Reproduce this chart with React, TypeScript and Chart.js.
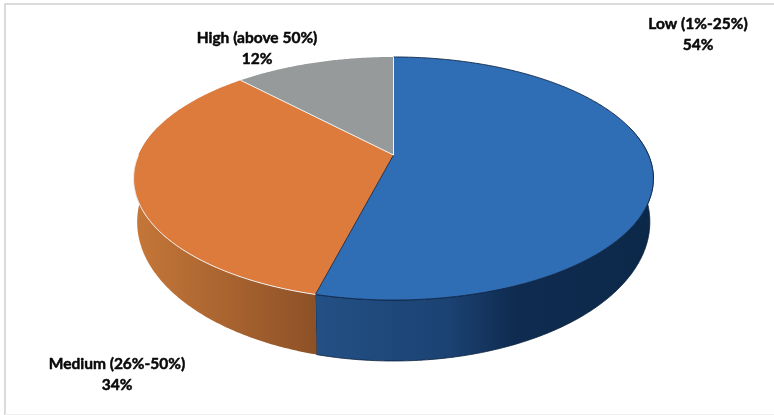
import React, { useEffect, useRef } from "react";
import { Chart, registerables } from "chart.js";

Chart.register(...registerables);

const sliceNames = ["Low (1%-25%)", "Medium (26%-50%)", "High (above 50%)"];
const sharePercent = [54, 34, 12];

const topColors = ["#2f6db5", "#dd7b3c", "#969a9a"];
const wallStops = [
  [[0, "#235085"], [0.4, "#1b4272"], [0.6, "#0f2b50"], [1, "#0c2849"]],
  [[0, "#c47638"], [1, "#8d5127"]],
  [[0, "#6b6e6e"], [1, "#6b6e6e"]],
];
const labelAnchors = [
  { x: 698, y: 24 },
  { x: 117, y: 364 },
  { x: 257, y: 38 },
];

// The disc is a circle seen in perspective: the hub sits above the centre of the rim ellipse.
const CX = 393.5;
const TILT = 0.1934;
const TOP = { a: 255, b: 117, y0: 155 };
const BASE = { a: 251.5, b: 133.8, y0: 195.1 };

type Plane = { a: number; b: number; y0: number };

function project(theta: number, p: Plane) {
  const X = Math.sin(theta);
  const Y = -Math.cos(theta);
  const w = 1 - TILT * Y;
  return { x: CX + (p.a * X) / w, y: p.y0 + (p.b * Y) / w };
}

function tracePlaneArc(ctx: CanvasRenderingContext2D, from: number, to: number, p: Plane, first: boolean) {
  const n = Math.max(2, Math.ceil(Math.abs(to - from) / (Math.PI / 360)));
  for (let i = 0; i <= n; i++) {
    const pt = project(from + ((to - from) * i) / n, p);
    if (i === 0 && first) ctx.moveTo(pt.x, pt.y);
    else ctx.lineTo(pt.x, pt.y);
  }
}

const perspectivePie = {
  id: "perspectivePie",
  beforeDraw(chart: Chart) {
    const { ctx } = chart;
    ctx.save();
    ctx.fillStyle = "#ffffff";
    ctx.fillRect(0, 0, 774, 415);
    ctx.strokeStyle = "#cfcfcf";
    ctx.lineWidth = 1.5;
    ctx.beginPath();
    ctx.moveTo(5, 415);
    ctx.lineTo(5, 4);
    ctx.lineTo(774, 4);
    ctx.stroke();
    ctx.strokeStyle = "#efefef";
    ctx.lineWidth = 1;
    ctx.beginPath();
    ctx.moveTo(5, 414.5);
    ctx.lineTo(774, 414.5);
    ctx.stroke();
    ctx.restore();
  },
  afterDatasetsDraw(chart: Chart) {
    const { ctx } = chart;
    const arcs = chart.getDatasetMeta(0).data as any[];
    const spans = arcs.map((arc) => ({
      start: arc.startAngle + Math.PI / 2,
      end: arc.endAngle + Math.PI / 2,
    }));
    ctx.save();
    ctx.lineJoin = "round";

    // Outer walls: the base rim runs from the side edges, so sweep a little past the quarter points.
    spans.forEach((s, i) => {
      const from = Math.max(s.start, Math.PI * 0.42);
      const to = Math.min(s.end, Math.PI * 1.58);
      if (to <= from) return;
      const xA = project(Math.max(from, Math.PI / 2), TOP).x;
      const xB = project(Math.min(to, (3 * Math.PI) / 2), TOP).x;
      const left = Math.min(xA, xB);
      const right = Math.max(xA, xB);
      const g = ctx.createLinearGradient(left, 0, right, 0);
      wallStops[i].forEach(([o, c]) => g.addColorStop(o as number, c as string));
      ctx.beginPath();
      tracePlaneArc(ctx, from, to, TOP, true);
      tracePlaneArc(ctx, to, from, BASE, false);
      ctx.closePath();
      ctx.fillStyle = g;
      ctx.fill();
      if (i === 0) {
        ctx.strokeStyle = "#0a1f3a";
        ctx.lineWidth = 0.8;
        ctx.stroke();
      }
    });

    // Top faces.
    spans.forEach((s, i) => {
      ctx.beginPath();
      ctx.moveTo(CX, TOP.y0);
      tracePlaneArc(ctx, s.start, s.end, TOP, false);
      ctx.closePath();
      ctx.fillStyle = topColors[i];
      ctx.fill();
    });

    // Dark outline along the blue rim and down to the hub.
    ctx.strokeStyle = "#0f2747";
    ctx.lineWidth = 0.9;
    ctx.beginPath();
    tracePlaneArc(ctx, spans[0].start, spans[0].end, TOP, true);
    ctx.lineTo(CX, TOP.y0);
    ctx.stroke();

    // White seams around the orange and grey faces.
    ctx.strokeStyle = "#f4f4f4";
    ctx.lineWidth = 1;
    ctx.beginPath();
    const seam = project(spans[2].start, TOP);
    ctx.moveTo(seam.x, seam.y);
    ctx.lineTo(CX, TOP.y0);
    ctx.lineTo(CX, TOP.y0 - TOP.b / (1 + TILT));
    ctx.stroke();
    ctx.beginPath();
    tracePlaneArc(ctx, spans[1].start, (3 * Math.PI) / 2, TOP, true);
    ctx.stroke();

    // Slice labels.
    ctx.fillStyle = "#0a0a0a";
    ctx.strokeStyle = "#0a0a0a";
    ctx.lineWidth = 0.5;
    ctx.font = "bold 15.5px Lato";
    ctx.textAlign = "center";
    ctx.textBaseline = "middle";
    sliceNames.forEach((name, i) => {
      const at = labelAnchors[i];
      const value = `${sharePercent[i]}%`;
      ctx.fillText(name, at.x, at.y);
      ctx.strokeText(name, at.x, at.y);
      ctx.fillText(value, at.x, at.y + 21);
      ctx.strokeText(value, at.x, at.y + 21);
    });
    ctx.restore();
  },
};

export default function App() {
  const ref = useRef<HTMLCanvasElement | null>(null);
  useEffect(() => {
    if (!ref.current) return;
    const chart = new Chart(ref.current, {
      type: "pie",
      data: {
        labels: sliceNames,
        datasets: [
          {
            data: sharePercent,
            backgroundColor: "rgba(0,0,0,0)",
            borderWidth: 0,
          },
        ],
      },
      options: {
        animation: false,
        responsive: false,
        events: [],
        rotation: 0,
        plugins: { legend: { display: false }, tooltip: { enabled: false } },
      },
      plugins: [perspectivePie],
    });
    return () => chart.destroy();
  }, []);
  return (
    <div style={{ position: "absolute", left: 0, top: 0, width: 774, height: 415 }}>
      <canvas ref={ref} width={774} height={415} style={{ display: "block" }} />
    </div>
  );
}
